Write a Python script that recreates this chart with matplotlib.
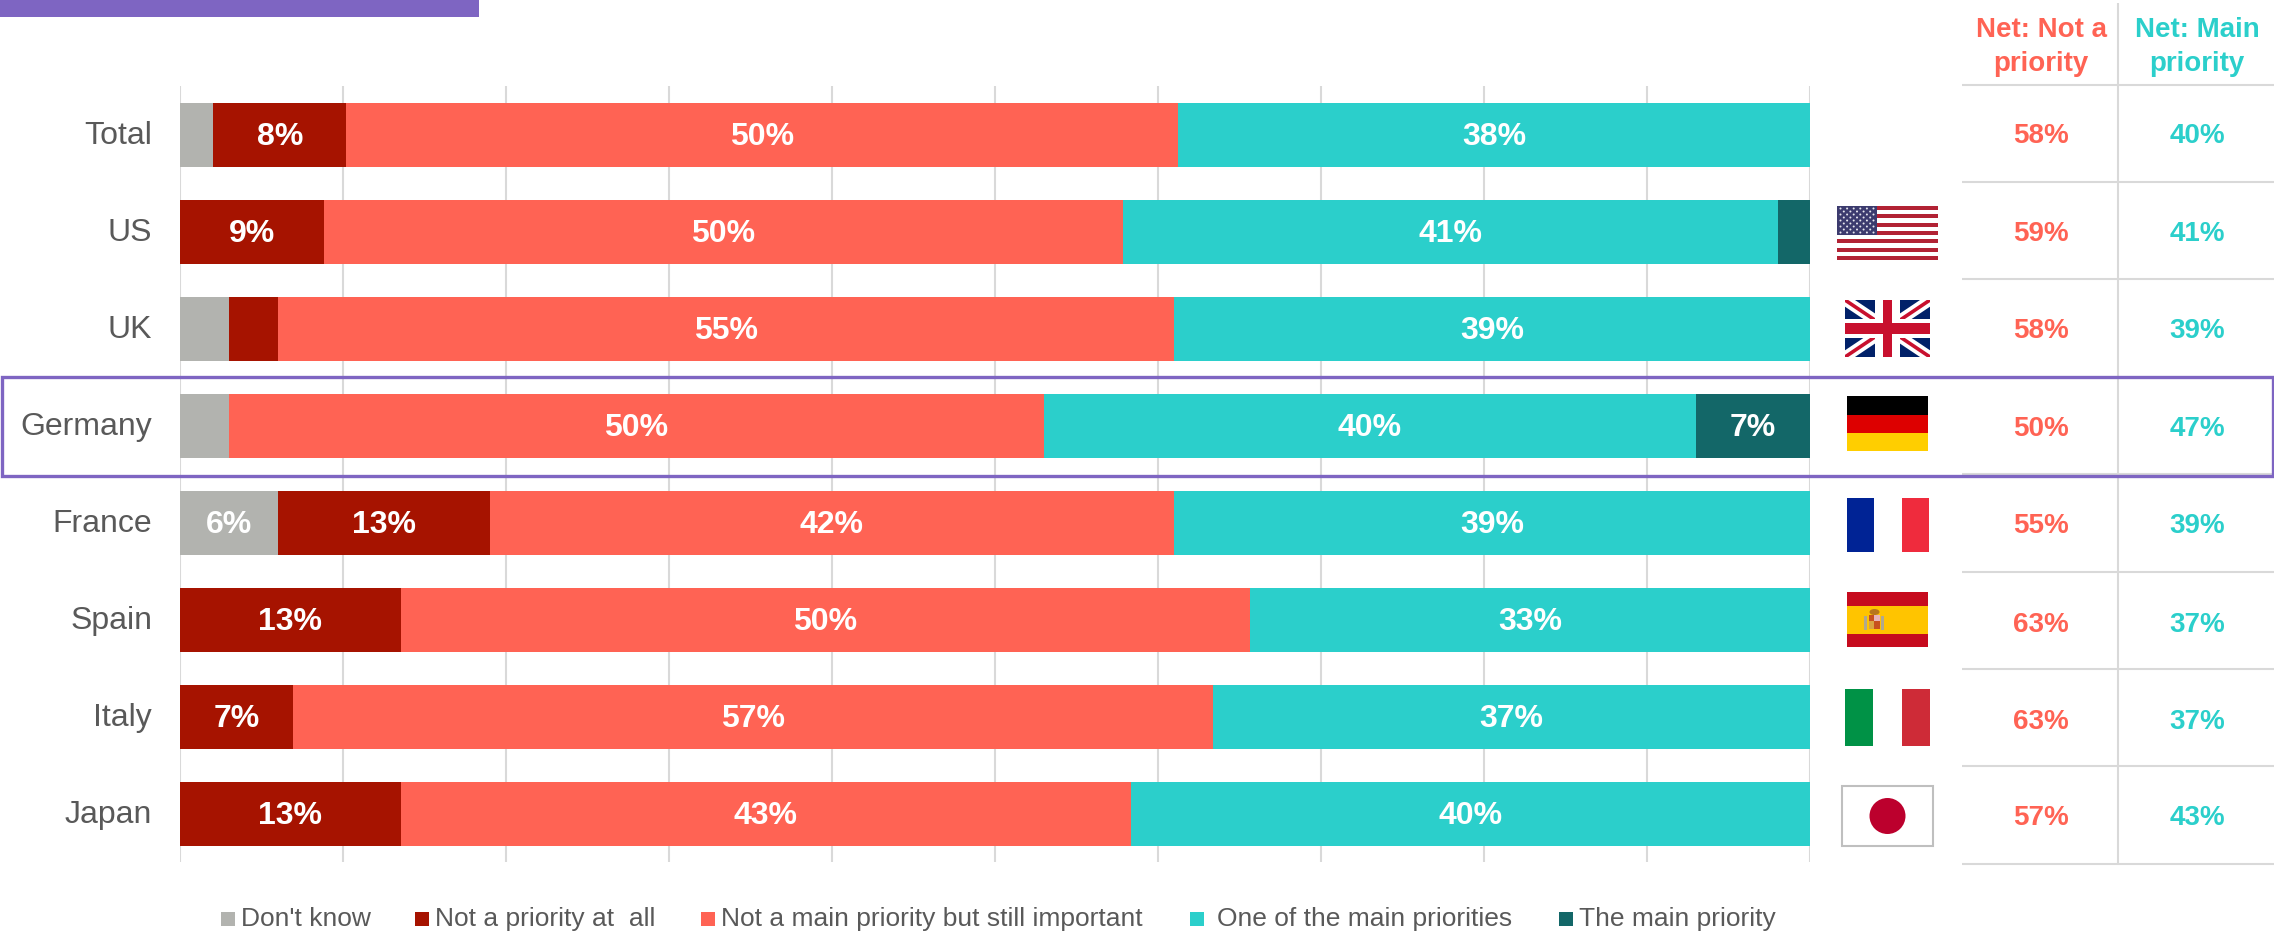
import numpy as np
import matplotlib.pyplot as plt
from matplotlib.patches import Rectangle, Circle, Ellipse
from matplotlib.transforms import ScaledTranslation

plt.rcParams['font.family'] = ['Liberation Sans', 'DejaVu Sans']

W, H = 2274, 937

countries = ['Total', 'US', 'UK', 'Germany', 'France', 'Spain', 'Italy', 'Japan']
series_names = ["Don't know", 'Not a priority at  all', 'Not a main priority but still important',
                'One of the main priorities', 'The main priority']

dont_know = [2, 0, 3, 3, 6, 0, 0, 0]
not_at_all = [8, 9, 3, 0, 13, 13, 7, 13]
not_main = [50, 50, 55, 50, 42, 50, 57, 43]
one_of_main = [38, 41, 39, 40, 39, 33, 37, 40]
the_main = [0, 2, 0, 7, 0, 0, 0, 0]

net_not = [58, 59, 58, 50, 55, 63, 63, 57]
net_main = [40, 41, 39, 47, 39, 37, 37, 43]

GREY = '#B2B3AF'
DARK_RED = '#A61300'
CORAL = '#FF6354'
TEAL = '#2BCFCB'
DARK_TEAL = '#136768'
PURPLE = '#7E65C2'
LINE = '#D9D9D9'
TEXT = '#595959'
colors = [GREY, DARK_RED, CORAL, TEAL, DARK_TEAL]

fig = plt.figure(figsize=(W / 100, H / 100), dpi=100)

# stacked bars, every row scaled to 100
ax = fig.add_axes([180 / W, 1 - 863 / H, 1630 / W, 776 / H])
values = np.array([dont_know, not_at_all, not_main, one_of_main, the_main], dtype=float)
shares = values / values.sum(axis=0) * 100
rows = np.arange(len(countries))
left = np.zeros(len(countries))
for i, name in enumerate(series_names):
    bars = ax.barh(rows, shares[i], left=left, height=64 / 97, color=colors[i], zorder=3)
    labels = ['%d%%' % v if v >= 5 else '' for v in values[i]]
    texts = ax.bar_label(bars, labels=labels, label_type='center', color='white',
                         fontsize=23, fontweight='bold', zorder=4)
    for t in texts:
        t.xyann = (0, -1.2)
    left += shares[i]

ax.set_xlim(0, 100)
ax.set_ylim(len(countries) - 0.5, -0.5)
ax.set_xticks(np.arange(0, 101, 10))
ax.set_yticks(rows)
ax.set_yticklabels(countries, fontsize=23, color=TEXT)
ax.tick_params(axis='both', length=0)
ax.tick_params(axis='y', pad=20)
ax.tick_params(axis='x', labelbottom=False)
ax.grid(axis='x', color=LINE, linewidth=1.5, zorder=0)
ax.grid(axis='y', visible=False)
for spine in ax.spines.values():
    spine.set_visible(False)

# country names sit a little above the bar centre
nudge = ScaledTranslation(0, 3 / 100, fig.dpi_scale_trans)
for t in ax.get_yticklabels():
    t.set_transform(t.get_transform() + nudge)

# everything around the bars goes on a pixel-sized layer
top = fig.add_axes([0, 0, 1, 1], zorder=5)
top.set_xlim(0, W)
top.set_ylim(H, 0)
top.axis('off')
top.patch.set_alpha(0)


def box(x0, y0, x1, y1, color, z=2):
    r = Rectangle((x0, y0), x1 - x0, y1 - y0, facecolor=color, edgecolor='none', zorder=z)
    top.add_patch(r)
    return r


box(0, 0, 479, 18, PURPLE)

# net table on the right
table_lines = [86, 183, 280, 475, 573, 670, 767, 865]
for y in table_lines:
    top.plot([1962, W], [y, y], color=LINE, lw=1.5, solid_capstyle='butt', zorder=1)
top.plot([2118, 2118], [4, 865], color=LINE, lw=1.5, solid_capstyle='butt', zorder=1)

top.text(2041, 30, 'Net: Not a', color=CORAL, fontsize=20, fontweight='bold', ha='center', va='center')
top.text(2041, 64, 'priority', color=CORAL, fontsize=20, fontweight='bold', ha='center', va='center')
top.text(2197, 30, 'Net: Main', color=TEAL, fontsize=20, fontweight='bold', ha='center', va='center')
top.text(2197, 64, 'priority', color=TEAL, fontsize=20, fontweight='bold', ha='center', va='center')

net_y = [136, 234, 331, 429, 526, 625, 722, 818]
for y, a, b in zip(net_y, net_not, net_main):
    top.text(2041, y, '%d%%' % a, color=CORAL, fontsize=20, fontweight='bold', ha='center', va='center')
    top.text(2197, y, '%d%%' % b, color=TEAL, fontsize=20, fontweight='bold', ha='center', va='center')

# Germany highlight
top.add_patch(Rectangle((2, 378), W - 3, 99, facecolor='none', edgecolor=PURPLE, linewidth=2.4, zorder=3))

# flags
# US
for s in range(13):
    y0 = 207 + s * 54 / 13
    box(1837, y0, 1938, y0 + 54 / 13, '#B22234' if s % 2 == 0 else 'white')
box(1837, 207, 1877, 236, '#3C3B6E', z=3)
for r in range(9):
    n = 6 if r % 2 == 0 else 5
    for c in range(n):
        sx = 1840.5 + c * 6.6 + (0 if r % 2 == 0 else 3.3)
        top.add_patch(Circle((sx, 209.5 + r * 3), 1.0, facecolor='#E6E6EE', edgecolor='none', zorder=4))

# UK
uk = box(1845, 301, 1930, 358, '#012169')
for (x0, y0, x1, y1) in [(1845, 301, 1930, 358), (1845, 358, 1930, 301)]:
    l1, = top.plot([x0, x1], [y0, y1], color='white', lw=8, solid_capstyle='butt', zorder=3)
    l2, = top.plot([x0, x1], [y0, y1], color='#C8102E', lw=2.6, solid_capstyle='butt', zorder=4)
    l1.set_clip_path(uk)
    l2.set_clip_path(uk)
box(1845, 320, 1930, 339, 'white', z=5)
box(1875, 301, 1900, 358, 'white', z=5)
box(1845, 324, 1930, 335, '#C8102E', z=6)
box(1883, 301, 1892, 358, '#C8102E', z=6)

# Germany
box(1847, 397, 1928, 415.5, 'black')
box(1847, 415.5, 1928, 433.5, '#DD0000')
box(1847, 433.5, 1928, 452, '#FFCE00')

# France
box(1847, 499, 1874, 553, '#002395')
box(1902, 499, 1929, 553, '#EF2B3D')

# Spain, with a small coat of arms
box(1847, 593, 1928, 648, '#C60B1E')
box(1847, 607, 1928, 635, '#FFC400')
box(1869, 616, 1874, 622, '#C8501E', z=3)
box(1874, 616, 1880, 622, '#E8B4B8', z=3)
box(1869, 622, 1874, 630, '#D9A441', z=3)
box(1874, 622, 1880, 630, '#C8501E', z=3)
box(1864, 617, 1867, 631, '#B0A890', z=3)
box(1881, 617, 1884, 631, '#B0A890', z=3)
top.add_patch(Ellipse((1874.5, 613), 10, 6, facecolor='#B8761B', edgecolor='none', zorder=3))

# Italy
box(1845, 690, 1873, 747, '#009246')
box(1902, 690, 1930, 747, '#CE2B37')

# Japan
top.add_patch(Rectangle((1842, 787), 91, 60, facecolor='white', edgecolor='#BFBFBF', linewidth=1.5))
top.add_patch(Ellipse((1887.5, 817), 36, 36, facecolor='#BC002D', edgecolor='none'))

# legend
swatch_x = [221, 415, 701, 1190, 1559]
label_x = [241, 435, 721, 1217, 1579]
for i, name in enumerate(series_names):
    box(swatch_x[i], 913, swatch_x[i] + 14, 927, colors[i])
    top.text(label_x[i], 919, name, color=TEXT, fontsize=19, ha='left', va='center')

plt.savefig('out.png', dpi=100)
